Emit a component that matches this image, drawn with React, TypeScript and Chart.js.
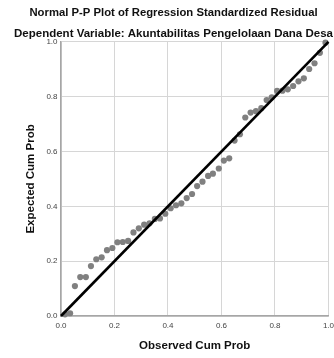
import React, { useEffect, useRef } from 'react';
import { Chart, registerables } from 'chart.js';

Chart.register(...registerables);

const observedCumProb = [
  0.015, 0.034, 0.052, 0.072, 0.093, 0.112, 0.132, 0.152, 0.172, 0.192,
  0.211, 0.231, 0.251, 0.271, 0.291, 0.311, 0.331, 0.351, 0.370, 0.390,
  0.410, 0.430, 0.450, 0.470, 0.490, 0.509, 0.529, 0.550, 0.568, 0.590,
  0.609, 0.629, 0.649, 0.669, 0.689, 0.709, 0.729, 0.749, 0.769, 0.788,
  0.808, 0.828, 0.848, 0.868, 0.888, 0.908, 0.928, 0.948, 0.968, 0.989,
];

const expectedCumProb = [
  0.006, 0.010, 0.109, 0.142, 0.142, 0.182, 0.207, 0.214, 0.240, 0.248,
  0.269, 0.270, 0.274, 0.305, 0.320, 0.333, 0.338, 0.354, 0.356, 0.373,
  0.393, 0.404, 0.411, 0.430, 0.445, 0.474, 0.490, 0.511, 0.519, 0.538,
  0.567, 0.575, 0.640, 0.663, 0.724, 0.742, 0.747, 0.758, 0.788, 0.798,
  0.821, 0.822, 0.827, 0.839, 0.856, 0.867, 0.901, 0.922, 0.960, 0.997,
];

const refLineX = [0, 1];
const refLineY = [0, 1];

const axisMin = 0;
const axisMax = 1;
const axisStep = 0.2;

const titleText = 'Normal P-P Plot of Regression Standardized Residual';
const subtitleText = 'Dependent Variable: Akuntabilitas Pengelolaan Dana Desa';
const xTitle = 'Observed Cum Prob';
const yTitle = 'Expected Cum Prob';

const FONT = "'Liberation Sans', Arial, sans-serif";

export default function App() {
  const ref = useRef<HTMLCanvasElement | null>(null);

  useEffect(() => {
    if (!ref.current) return;
    const chart = new Chart(ref.current, {
      type: 'scatter',
      data: {
        datasets: [
          {
            type: 'line',
            data: refLineX.map((x, i) => ({ x, y: refLineY[i] })),
            borderColor: '#000000',
            borderWidth: 2.6,
            pointRadius: 0,
            fill: false,
            order: 0,
            clip: false,
          } as any,
          {
            type: 'scatter',
            data: observedCumProb.map((x, i) => ({ x, y: expectedCumProb[i] })),
            backgroundColor: '#808080',
            borderColor: '#808080',
            borderWidth: 0,
            pointRadius: 3.1,
            order: 1,
            clip: false,
          } as any,
        ],
      },
      options: {
        animation: false,
        responsive: false,
        layout: { padding: { left: 13, right: 0, top: 0, bottom: 0 } },
        plugins: {
          legend: { display: false },
          tooltip: { enabled: false },
          title: {
            display: true,
            text: titleText,
            color: '#111111',
            font: { family: FONT, size: 11.3, weight: 'bold' },
            padding: { top: 6.1, bottom: 0 },
          },
          subtitle: {
            display: true,
            text: subtitleText,
            color: '#111111',
            font: { family: FONT, size: 11.5, weight: 'bold' },
            padding: { top: 6.8, bottom: 1.6 },
          },
        },
        scales: {
          x: {
            type: 'linear',
            min: axisMin,
            max: axisMax,
            afterFit: (s: any) => {
              s.height = 42;
            },
            ticks: {
              stepSize: axisStep,
              color: '#444444',
              font: { family: FONT, size: 8 },
              padding: 0,
              callback: (v: any) => Number(v).toFixed(1),
            },
            grid: {
              color: '#d6d6d6',
              lineWidth: 1,
              drawTicks: true,
              tickLength: 5,
              tickColor: 'rgba(0,0,0,0)',
            },
            border: { color: '#a6a6a6', width: 1.5 },
            title: {
              display: true,
              text: xTitle,
              color: '#111111',
              font: { family: FONT, size: 11.5, weight: 'bold' },
              padding: { top: 0, bottom: 5 },
            },
          },
          y: {
            type: 'linear',
            min: axisMin,
            max: axisMax,
            afterFit: (s: any) => {
              s.width = 48;
            },
            ticks: {
              stepSize: axisStep,
              color: '#444444',
              font: { family: FONT, size: 8 },
              padding: 0,
              callback: (v: any) => Number(v).toFixed(1),
            },
            grid: {
              color: '#d6d6d6',
              lineWidth: 1,
              drawTicks: true,
              tickLength: 3.5,
              tickColor: 'rgba(0,0,0,0)',
            },
            border: { color: '#a6a6a6', width: 1.5 },
            title: {
              display: true,
              text: yTitle,
              color: '#111111',
              font: { family: FONT, size: 11.5, weight: 'bold' },
              padding: { top: 10.8, bottom: 0 },
            },
          },
        },
      },
    });
    return () => chart.destroy();
  }, []);

  return (
    <div style={{ position: 'absolute', left: 0, top: 0, width: 334, height: 358, background: '#ffffff' }}>
      <canvas ref={ref} width={334} height={358} style={{ display: 'block' }} />
    </div>
  );
}
